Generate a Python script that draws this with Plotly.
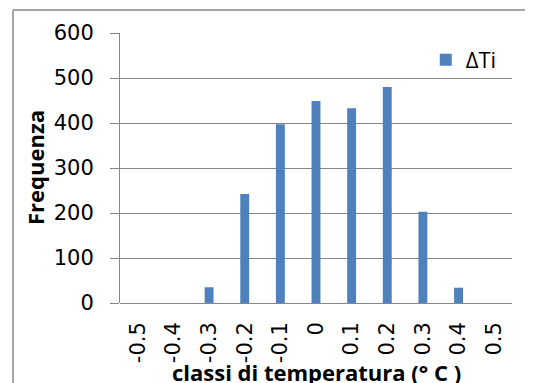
import plotly.graph_objs as go

# classes of temperature and their counts
classes = ["-0.5", "-0.4", "-0.3", "-0.2", "-0.1", "0", "0.1", "0.2", "0.3", "0.4", "0.5"]
freq = [0, 0, 35, 242, 397, 449, 433, 480, 203, 34, 0]
y_ticks = [0, 100, 200, 300, 400, 500, 600]

FONT = "Open Sans"
TICK_FONT = "DejaVu Sans"
GRID = "#868686"

fig = go.Figure()
fig.add_trace(go.Bar(
    x=classes,
    y=freq,
    name="ΔTi",
    marker=dict(color="#4F81BD", line=dict(width=0)),
))

# page body adds an 8px margin, so the figure is drawn 8px smaller
fig.update_layout(
    width=525,
    height=375,
    margin=dict(l=112, r=21, t=25, b=80),
    paper_bgcolor="white",
    plot_bgcolor="white",
    font=dict(family=FONT, size=22, color="#000000"),
    bargap=0.75,
    showlegend=True,
    legend=dict(x=0.78, y=0.9, xanchor="left", yanchor="middle",
                bgcolor="rgba(0,0,0,0)", font=dict(size=22)),
)
fig.update_xaxes(
    type="category",
    tickangle=-90,
    showgrid=False,
    showline=False,
    ticks="",
    ticklabelstandoff=14,
    tickfont=dict(family=TICK_FONT, size=21),
)
fig.update_yaxes(
    range=[0, 600],
    tickvals=y_ticks,
    showgrid=True,
    gridcolor=GRID,
    gridwidth=1,
    zeroline=True,
    zerolinecolor=GRID,
    zerolinewidth=1,
    showline=True,
    linecolor=GRID,
    linewidth=1,
    ticks="outside",
    ticklen=9,
    tickcolor=GRID,
    ticklabelstandoff=12,
    tickfont=dict(family=TICK_FONT, size=21),
)

# axis titles
fig.add_annotation(text="<b>Frequenza</b>", xref="paper", yref="paper",
                   x=(35 - 120) / 392, y=0.5, showarrow=False, textangle=-90,
                   font=dict(size=22), xanchor="center", yanchor="middle")
fig.add_annotation(text="<b>classi di temperatura (° C )</b>", xref="paper", yref="paper",
                   x=0.5, y=(303 - 372) / 270, showarrow=False,
                   font=dict(size=22), xanchor="center", yanchor="middle")

# chart frame: only left and top edges fall inside the picture
frame_x = (13 - 120) / 392
frame_y = (303 - 10) / 270
fig.add_shape(type="line", xref="paper", yref="paper",
              x0=frame_x, x1=frame_x, y0=-0.5, y1=frame_y,
              line=dict(color="#898989", width=1.5))
fig.add_shape(type="line", xref="paper", yref="paper",
              x0=frame_x, x1=1.2, y0=frame_y, y1=frame_y,
              line=dict(color="#898989", width=1.5))

fig.write_html("out.html")
